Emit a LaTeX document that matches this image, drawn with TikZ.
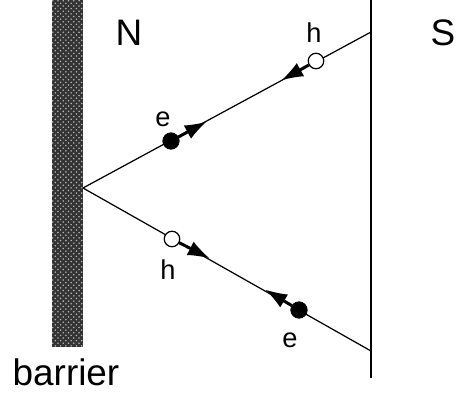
\documentclass[tikz,border=0pt]{standalone}
\usepackage{fontspec}
\setmainfont{Liberation Sans}
\usetikzlibrary{arrows.meta,patterns}

\begin{document}
\begin{tikzpicture}[x=0.02cm, y=-0.02cm, >=Latex,
    every node/.style={inner sep=0pt},
    ray/.style={line width=0.7pt},
    elec/.style={draw, circle, fill=black, minimum size=0.33cm},
    hole/.style={draw, circle, fill=white, minimum size=0.31cm, line width=0.7pt},
    carrier/.style={-{Latex[length=12pt,width=8.5pt,line width=0pt]}, line width=1.7pt},
    lbl/.style={font=\fontsize{15.5}{18}\selectfont},
    side/.style={font=\fontsize{21}{24}\selectfont}]
  \useasboundingbox (0,0) rectangle (457,396);
  % barrier
  \fill[black!80] (52,0) rectangle (83,347);
  \fill[pattern=crosshatch dots, pattern color=white!70!black] (52,0) rectangle (83,347);
  \draw[line width=1.4pt] (371,0) -- (371,378);
  \coordinate (vertex) at (83,188);
  \coordinate (top) at (371,32);
  \coordinate (bot) at (371,351);
  \draw[ray] (vertex) -- (top);
  \draw[ray] (vertex) -- (bot);

  \node[elec] (e1) at (171,141) {};
  \node[hole] (h1) at (316,61) {};
  \node[hole] (h2) at (172,239) {};
  \node[elec] (e2) at (299,310) {};

  \coordinate (etip1) at (206,122);
  \coordinate (htip1) at (282,80);
  \coordinate (htip2) at (209,258);
  \coordinate (etip2) at (266,290);
  \draw[carrier] (e1) -- (etip1);
  \draw[carrier] (h1) -- (htip1);
  \draw[carrier] (h2) -- (htip2);
  \draw[carrier] (e2) -- (etip2);

  \node[lbl] (le1) at (163,119) {e};
  \node[lbl] (lh1) at (314,33) {h};
  \node[lbl] (lh2) at (168,270) {h};
  \node[lbl] (le2) at (290,340) {e};

  \node[side] (N) at (129,33) {N};
  \node[side] (S) at (443,33) {S};
  \node[side] (barrier) at (66,372) {barrier};
\end{tikzpicture}
\end{document}
